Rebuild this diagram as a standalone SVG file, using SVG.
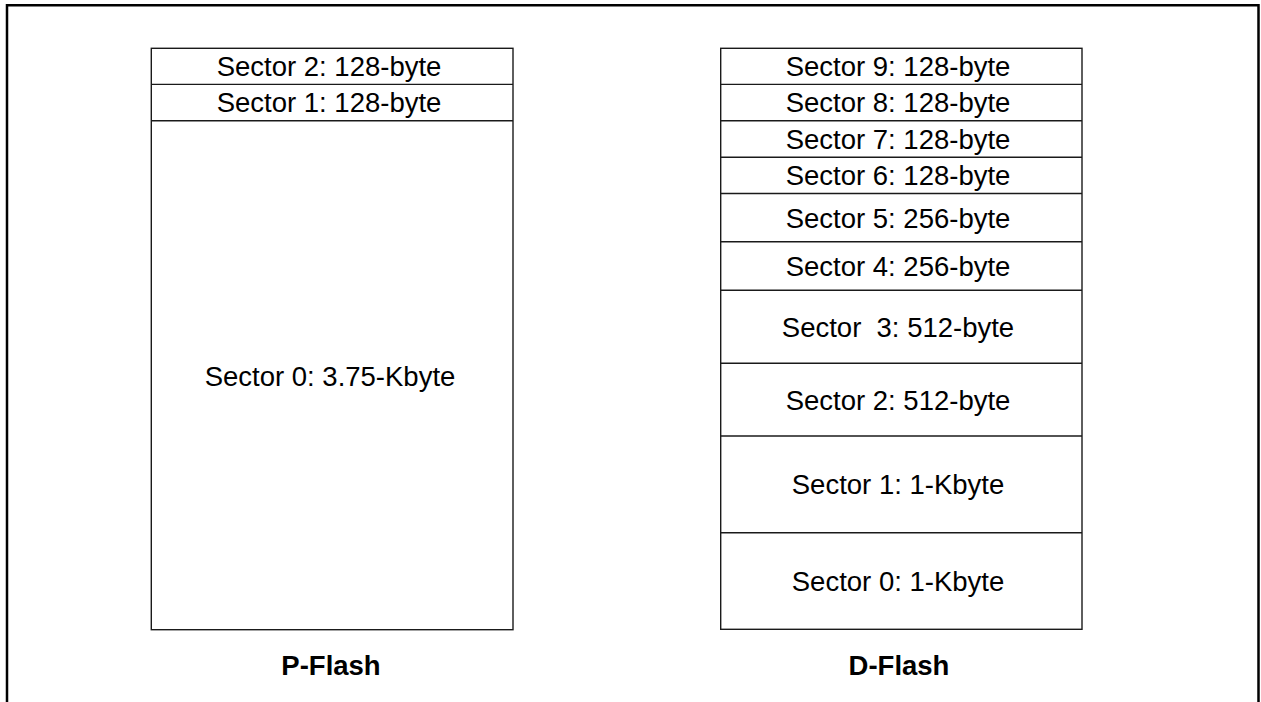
<svg xmlns="http://www.w3.org/2000/svg" width="1261" height="702" viewBox="0 0 1261 702">
<style>
.frame{fill:none;stroke:#000;stroke-width:2.5}
.box{fill:#fff;stroke:#1a1a1a;stroke-width:1.4}
.div{stroke:#1a1a1a;stroke-width:1.4}
.t{font-family:"Liberation Sans",Arial,sans-serif;font-size:27.5px;fill:#000;text-anchor:middle;white-space:pre}
.lbl{font-family:"Liberation Sans",Arial,sans-serif;font-size:27.5px;font-weight:bold;fill:#000;text-anchor:middle}
</style>
<rect width="1261" height="702" fill="#fff"/>
<path class="frame" d="M7,702 V5.3 H1258.5 V702"/>
<g id="pflash">
<rect class="box" x="151.3" y="48.3" width="361.7" height="581.4"/>
<line class="div" x1="151.3" y1="84.4" x2="513" y2="84.4"/>
<line class="div" x1="151.3" y1="120.7" x2="513" y2="120.7"/>
<text class="t" x="329" y="75.5">Sector 2: 128-byte</text>
<text class="t" x="329" y="112">Sector 1: 128-byte</text>
<text class="t" x="330" y="386">Sector 0: 3.75-Kbyte</text>
</g>
<g id="dflash">
<rect class="box" x="720.7" y="48.3" width="361.3" height="581"/>
<line class="div" x1="720.7" y1="84.4" x2="1082" y2="84.4"/>
<line class="div" x1="720.7" y1="120.7" x2="1082" y2="120.7"/>
<line class="div" x1="720.7" y1="157.2" x2="1082" y2="157.2"/>
<line class="div" x1="720.7" y1="193.5" x2="1082" y2="193.5"/>
<line class="div" x1="720.7" y1="241.8" x2="1082" y2="241.8"/>
<line class="div" x1="720.7" y1="290.3" x2="1082" y2="290.3"/>
<line class="div" x1="720.7" y1="363.3" x2="1082" y2="363.3"/>
<line class="div" x1="720.7" y1="436" x2="1082" y2="436"/>
<line class="div" x1="720.7" y1="532.7" x2="1082" y2="532.7"/>
<text class="t" x="898" y="75.5">Sector 9: 128-byte</text>
<text class="t" x="898" y="112">Sector 8: 128-byte</text>
<text class="t" x="898" y="148.5">Sector 7: 128-byte</text>
<text class="t" x="898" y="185">Sector 6: 128-byte</text>
<text class="t" x="898" y="227.5">Sector 5: 256-byte</text>
<text class="t" x="898" y="276">Sector 4: 256-byte</text>
<text class="t" x="898" y="337">Sector  3: 512-byte</text>
<text class="t" x="898" y="410">Sector 2: 512-byte</text>
<text class="t" x="898" y="494">Sector 1: 1-Kbyte</text>
<text class="t" x="898" y="591">Sector 0: 1-Kbyte</text>
</g>
<g id="labels">
<text class="lbl" x="331" y="675">P-Flash</text>
<text class="lbl" x="899" y="675">D-Flash</text>
</g>
</svg>
